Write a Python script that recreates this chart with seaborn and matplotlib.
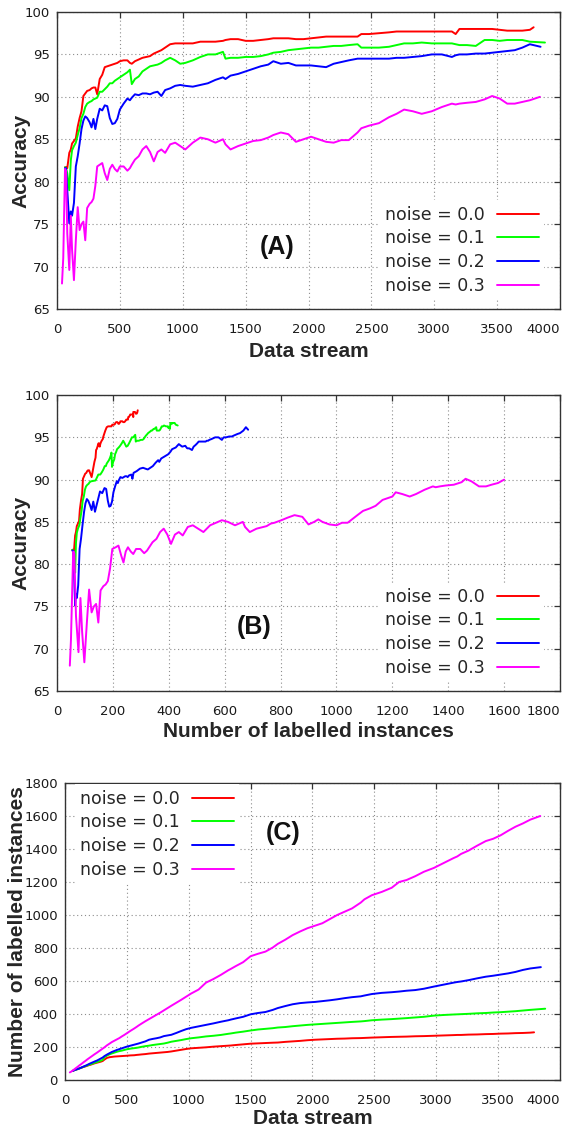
import numpy as np
import pandas as pd
import matplotlib
matplotlib.use("Agg")
from matplotlib import pyplot as plt
import seaborn as sns

noise_levels = ["noise = 0.0", "noise = 0.1", "noise = 0.2", "noise = 0.3"]
line_colours = ["#ff0000", "#00ff00", "#0000ff", "#ff00ff"]

# data stream positions shared by all runs (each run adds its own last point)
stream_x = [40, 50, 64, 72, 82, 98, 110, 120, 135, 150,
            165, 180, 195, 210, 225, 240, 260, 275, 290, 305,
            320, 340, 360, 380, 400, 420, 440, 460, 480, 500,
            530, 560, 580, 595, 620, 650, 680, 710, 740, 770,
            800, 830, 860, 900, 940, 980, 1020, 1080, 1140, 1200,
            1260, 1320, 1340, 1380, 1440, 1500, 1560, 1620, 1680, 1720,
            1780, 1840, 1900, 1960, 2020, 2080, 2140, 2200, 2260, 2320,
            2390, 2420, 2480, 2560, 2640, 2700, 2760, 2830, 2900, 2980,
            3060, 3140, 3170, 3200, 3260, 3330, 3400, 3460, 3520, 3580,
            3640, 3700, 3760]
end_x = [3790, 3880, 3845, 3840]

nan = np.nan

# accuracy (%) along the stream
acc_00 = [nan, nan, 81.7, 81.7, 81.6, 83.4, 83.8, 84.5, 84.8, 85.1,
          86.5, 87.5, 88.3, 90.1, 90.4, 90.7, 90.8, 91.0, 91.1, 91.1,
          90.3, 92.1, 92.6, 93.5, 93.6, 93.7, 93.8, 93.9, 94.0, 94.2,
          94.3, 94.3, 94.0, 93.9, 94.2, 94.4, 94.6, 94.7, 94.8, 95.1,
          95.3, 95.5, 95.8, 96.2, 96.3, 96.3, 96.3, 96.3, 96.5, 96.5,
          96.5, 96.6, 96.7, 96.8, 96.8, 96.6, 96.6, 96.7, 96.8, 96.9,
          96.9, 96.9, 96.8, 96.8, 96.9, 97.0, 97.1, 97.1, 97.1, 97.1,
          97.1, 97.4, 97.4, 97.5, 97.6, 97.7, 97.7, 97.7, 97.7, 97.7,
          97.7, 97.7, 97.4, 98.0, 98.0, 98.0, 98.0, 98.0, 97.9, 97.8,
          97.8, 97.8, 97.9, 98.2]
acc_01 = [nan, nan, 81.7, 81.6, 81.0, 79.0, 82.5, 83.7, 84.2, 84.6,
          85.5, 86.3, 87.5, 88.0, 88.8, 89.2, 89.4, 89.5, 89.7, 89.8,
          89.9, 90.6, 90.6, 90.9, 91.2, 91.6, 91.6, 91.9, 92.1, 92.3,
          92.6, 92.9, 93.2, 91.5, 92.1, 92.4, 93.0, 93.3, 93.6, 93.7,
          93.8, 94.0, 94.3, 94.6, 94.3, 93.9, 94.0, 94.3, 94.7, 95.0,
          95.0, 95.3, 94.5, 94.6, 94.6, 94.7, 94.7, 94.8, 95.0, 95.2,
          95.3, 95.5, 95.6, 95.7, 95.8, 95.8, 95.9, 96.0, 96.0, 96.1,
          96.2, 95.8, 95.8, 95.8, 95.9, 96.1, 96.3, 96.3, 96.4, 96.3,
          96.3, 96.3, 96.2, 96.1, 96.1, 96.0, 96.7, 96.7, 96.6, 96.7,
          96.7, 96.7, 96.5, 96.4]
acc_02 = [nan, nan, 81.6, 81.6, 79.0, 75.1, 76.5, 76.0, 77.5, 81.8,
          83.0, 84.5, 86.2, 87.2, 87.7, 87.5, 87.0, 86.4, 87.4, 86.2,
          87.4, 88.6, 88.4, 89.0, 88.9, 87.5, 86.8, 86.9, 87.4, 88.5,
          89.2, 89.8, 89.6, 89.9, 90.3, 90.2, 90.4, 90.4, 90.3, 90.5,
          90.6, 90.1, 90.8, 91.0, 91.3, 91.4, 91.3, 91.2, 91.4, 91.6,
          92.0, 92.3, 92.1, 92.5, 92.7, 93.0, 93.3, 93.6, 93.8, 94.2,
          93.9, 94.0, 93.7, 93.7, 93.7, 93.6, 93.5, 93.9, 94.1, 94.3,
          94.5, 94.5, 94.5, 94.5, 94.5, 94.6, 94.6, 94.7, 94.8, 95.0,
          95.0, 94.7, 94.9, 95.0, 95.0, 95.1, 95.1, 95.2, 95.3, 95.4,
          95.5, 95.8, 96.2, 95.9]
acc_03 = [68.0, 71.0, 81.5, 81.3, 73.9, 69.6, 76.0, 72.0, 68.4, 73.1,
          77.0, 74.3, 75.0, 75.3, 73.1, 76.9, 77.4, 77.6, 78.0, 79.5,
          81.8, 82.0, 82.2, 81.0, 80.2, 81.5, 82.0, 81.5, 81.2, 81.8,
          81.8, 81.3, 81.6, 82.0, 82.6, 83.0, 83.8, 84.2, 83.5, 82.4,
          83.5, 83.8, 83.4, 84.4, 84.6, 84.2, 83.8, 84.6, 85.2, 85.0,
          84.6, 85.0, 84.4, 83.8, 84.2, 84.5, 84.8, 84.9, 85.2, 85.5,
          85.8, 85.6, 84.7, 85.0, 85.3, 85.0, 84.7, 84.6, 84.9, 84.9,
          85.8, 86.3, 86.6, 86.9, 87.6, 88.0, 88.5, 88.3, 88.0, 88.3,
          88.8, 89.2, 89.1, 89.2, 89.3, 89.4, 89.7, 90.1, 89.8, 89.2,
          89.2, 89.4, 89.6, 90.0]

# number of labelled instances along the stream
lab_00 = [nan, nan, 55, 58, 61, 65, 68, 71, 75, 79,
          82, 86, 90, 93, 97, 101, 105, 108, 111, 115,
          124, 134, 138, 140, 142, 143, 144, 145, 146, 147,
          149, 150, 152, 153, 155, 157, 160, 162, 164, 166,
          168, 170, 173, 178, 183, 188, 192, 195, 198, 202,
          205, 208, 209, 212, 216, 220, 222, 224, 226, 227,
          231, 234, 237, 241, 244, 246, 248, 250, 251, 253,
          254, 255, 257, 259, 261, 262, 263, 265, 266, 268,
          270, 272, 273, 273, 275, 276, 278, 279, 281, 282,
          284, 285, 287, 289]
lab_01 = [nan, nan, 55, 58, 61, 65, 68, 71, 75, 80,
          84, 88, 92, 96, 100, 104, 109, 113, 117, 122,
          138, 148, 155, 161, 166, 171, 175, 178, 182, 186,
          190, 193, 195, 197, 201, 205, 208, 212, 215, 218,
          221, 226, 232, 237, 242, 248, 253, 258, 264, 268,
          273, 280, 282, 287, 293, 300, 306, 310, 314, 318,
          321, 326, 330, 334, 337, 340, 343, 346, 349, 352,
          355, 357, 362, 366, 369, 372, 375, 379, 383, 390,
          394, 397, 398, 399, 401, 404, 406, 409, 411, 414,
          417, 421, 425, 432]
lab_02 = [nan, nan, 55, 58, 61, 65, 68, 71, 76, 81,
          86, 91, 97, 102, 107, 112, 118, 124, 130, 136,
          145, 154, 162, 170, 176, 182, 187, 192, 197, 202,
          208, 214, 218, 221, 227, 234, 244, 249, 253, 258,
          266, 270, 274, 285, 297, 308, 316, 325, 334, 343,
          353, 362, 366, 373, 383, 398, 406, 412, 425, 436,
          448, 459, 466, 470, 473, 478, 483, 489, 496, 502,
          507, 512, 521, 528, 532, 536, 541, 545, 553, 566,
          578, 590, 594, 597, 605, 616, 626, 632, 639, 646,
          655, 667, 676, 684]
lab_03 = [46, 50, 58, 62, 68, 77, 84, 90, 98, 107,
          115, 124, 132, 140, 148, 156, 166, 174, 182, 190,
          198, 210, 220, 230, 238, 246, 254, 264, 273, 283,
          298, 312, 322, 330, 342, 356, 369, 382, 395, 408,
          422, 436, 450, 468, 486, 505, 524, 548, 590, 612,
          637, 665, 673, 690, 714, 750, 765, 778, 803, 825,
          850, 878, 900, 920, 935, 950, 975, 1000, 1020, 1040,
          1075, 1095, 1120, 1140, 1165, 1200, 1212, 1235, 1262, 1285,
          1315, 1345, 1355, 1370, 1390, 1420, 1448, 1462, 1483, 1510,
          1535, 1555, 1578, 1600]

LABEL_FONT = {"family": "Liberation Sans", "weight": "bold", "size": 15}
TICK_FONT = "DejaVu Sans"


def build_frame():
    accs = [acc_00, acc_01, acc_02, acc_03]
    labs = [lab_00, lab_01, lab_02, lab_03]
    parts = []
    for i, name in enumerate(noise_levels):
        parts.append(pd.DataFrame({
            "stream": stream_x + [end_x[i]],
            "accuracy": accs[i],
            "labelled": labs[i],
            "noise": name,
        }))
    return pd.concat(parts, ignore_index=True).dropna()


def style_axes(ax, xlim, xticks, ylim, yticks):
    ax.set_xlim(*xlim)
    ax.set_ylim(*ylim)
    ax.set_xticks(list(xticks))
    ax.set_yticks(list(yticks))
    ax.grid(True, linestyle=(0, (1, 2.5)), color="#8c8c8c", linewidth=0.8)
    ax.set_axisbelow(True)
    for sp in ax.spines.values():
        sp.set_visible(True)
        sp.set_color("#333333")
        sp.set_linewidth(1.0)
    ax.tick_params(direction="in", length=4, width=0.9, top=True, right=True,
                   colors="#333333", labelcolor="#1a1a1a", labelsize=9.5)
    ax.tick_params(axis="x", pad=10)
    ax.tick_params(axis="y", pad=5)
    for lbl in ax.get_xticklabels() + ax.get_yticklabels():
        lbl.set_family(TICK_FONT)
    # last x label is pushed inside the figure, as in the original
    ax.get_xticklabels()[-1].set_horizontalalignment("right")


def draw_panel(ax, df, x, y, xlabel, ylabel, tag, tag_xy, leg_loc, leg_anchor):
    sns.lineplot(data=df, x=x, y=y, hue="noise", hue_order=noise_levels,
                 palette=line_colours, estimator=None, sort=False,
                 linewidth=1.4, ax=ax)
    handles, labels = ax.get_legend_handles_labels()
    leg = ax.legend(handles, labels, loc=leg_loc, bbox_to_anchor=leg_anchor,
                    markerfirst=False, frameon=True, framealpha=1,
                    facecolor="white", edgecolor="none", fancybox=False,
                    borderpad=0.3, borderaxespad=0, handlelength=2.4,
                    handletextpad=0.7, labelspacing=0.33,
                    prop={"family": "DejaVu Sans", "size": 12.5})
    for ln in leg.get_lines():
        ln.set_linewidth(1.4)
    ax.set_xlabel(xlabel, fontdict=LABEL_FONT)
    ax.set_ylabel(ylabel, fontdict=LABEL_FONT)
    ax.text(tag_xy[0], tag_xy[1], tag, transform=ax.transAxes,
            ha="center", va="center", fontfamily="Liberation Sans",
            fontweight="bold", fontsize=18, color="#111111")


def main():
    sns.set_style("white")
    df = build_frame()
    fig = plt.figure(figsize=(5.64, 11.31), dpi=100)

    ax_a = fig.add_axes([0.101, 0.7268, 0.892, 0.2626])
    draw_panel(ax_a, df, "stream", "accuracy", "Data stream", "Accuracy",
               "(A)", (0.437, 0.209), "lower right", (0.968, 0.03))
    style_axes(ax_a, (0, 4000), range(0, 4001, 500), (65, 100), range(65, 101, 5))
    ax_a.yaxis.set_label_coords(-0.052, 0.5)
    ax_a.xaxis.set_label_coords(0.5, -0.11)

    ax_b = fig.add_axes([0.101, 0.389, 0.892, 0.2617])
    draw_panel(ax_b, df, "labelled", "accuracy", "Number of labelled instances",
               "Accuracy", "(B)", (0.392, 0.216), "lower right", (0.968, 0.03))
    style_axes(ax_b, (0, 1800), range(0, 1801, 200), (65, 100), range(65, 101, 5))
    ax_b.yaxis.set_label_coords(-0.052, 0.5)
    ax_b.xaxis.set_label_coords(0.5, -0.105)

    ax_c = fig.add_axes([0.115, 0.0451, 0.878, 0.2626])
    draw_panel(ax_c, df, "stream", "labelled", "Data stream",
               "Number of labelled instances", "(C)", (0.44, 0.832),
               "upper left", (0.02, 0.995))
    style_axes(ax_c, (0, 4000), range(0, 4001, 500), (0, 1800), range(0, 1801, 200))
    ax_c.yaxis.set_label_coords(-0.076, 0.5)
    ax_c.xaxis.set_label_coords(0.5, -0.097)

    fig.savefig("out.png", dpi=100)


if __name__ == "__main__":
    main()
